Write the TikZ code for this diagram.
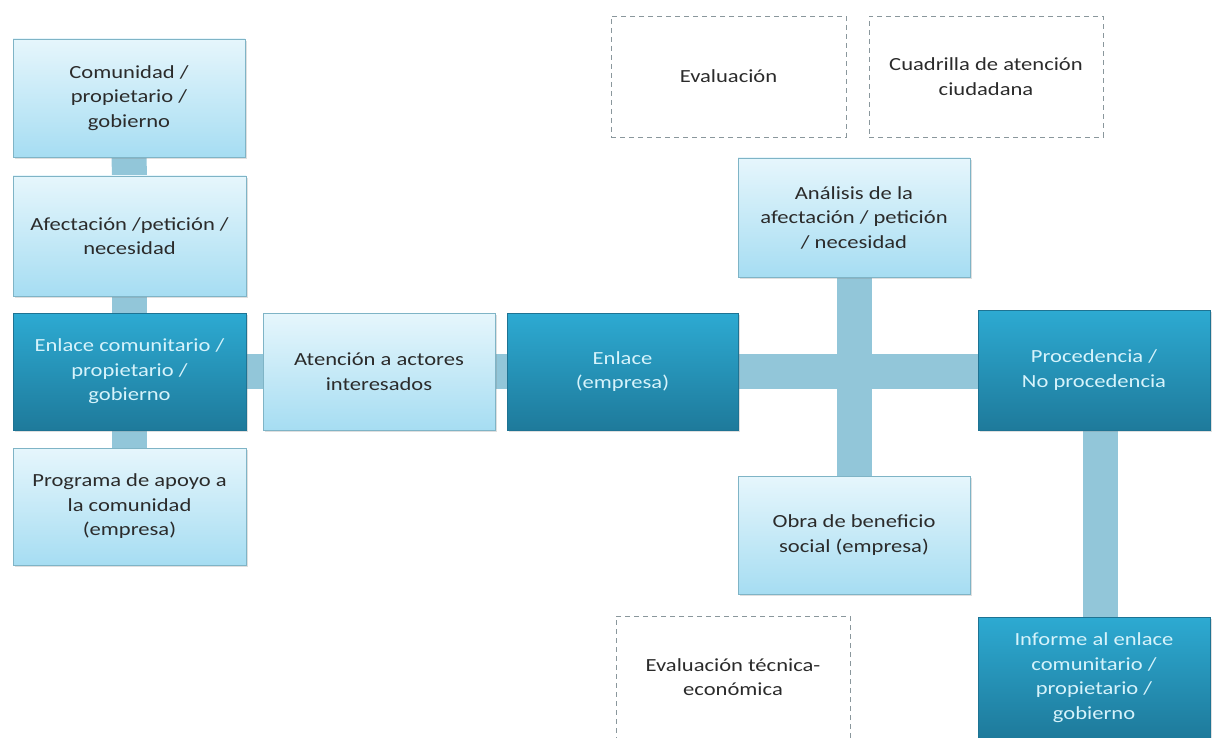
\documentclass[tikz,border=0pt]{standalone}
\usepackage{fontspec}
\setmainfont{Carlito}[FakeStretch=1.22]
\usetikzlibrary{backgrounds,shadows}
\definecolor{lighttop}{HTML}{E6F6FC}
\definecolor{lightbot}{HTML}{A6DDF2}
\definecolor{lightline}{HTML}{7FB4C6}
\definecolor{darktop}{HTML}{2DAAD2}
\definecolor{darkbot}{HTML}{1E7A9B}
\definecolor{darkline}{HTML}{1E7393}
\definecolor{barcol}{HTML}{92C6D9}
\definecolor{dashcol}{HTML}{8A979C}
\definecolor{txtdark}{HTML}{2B2B2B}
\definecolor{txtlight}{HTML}{D6F3FB}
\tikzset{
  base/.style={rectangle, align=center, inner sep=2pt,
    font=\fontsize{18.5}{24.5}\selectfont},
  lightbox/.style={base, top color=lighttop, bottom color=lightbot,
    draw=lightline, line width=0.8pt, text=txtdark,
    drop shadow={opacity=0.25, shadow xshift=1.5pt, shadow yshift=-2pt}},
  darkbox/.style={base, top color=darktop, bottom color=darkbot,
    draw=darkline, line width=0.8pt, text=txtlight,
    drop shadow={opacity=0.25, shadow xshift=1.5pt, shadow yshift=-2pt}},
  dashbox/.style={base, draw=dashcol, line width=0.9pt,
    dash pattern=on 5pt off 4pt, text=txtdark},
  bar/.style={draw=barcol, line width=35pt}
}
\begin{document}
\begin{tikzpicture}[x=1pt, y=-1pt]
\useasboundingbox (0,0) rectangle (1213,738);
\node[lightbox, minimum width=232pt, minimum height=118pt] (com) at (129,98) {Comunidad /\\propietario /\\gobierno};
\node[lightbox, minimum width=233pt, minimum height=120pt] (afe) at (129.5,236) {Afectación /petición /\\necesidad};
\node[darkbox, minimum width=233pt, minimum height=117pt] (enc) at (129.5,371.5) {Enlace comunitario /\\propietario /\\gobierno};
\node[lightbox, minimum width=233pt, minimum height=117pt] (pro) at (129.5,506.5) {Programa de apoyo a\\la comunidad\\(empresa)};
\node[lightbox, minimum width=232pt, minimum height=117pt] (ate) at (379,371.5) {Atención a actores\\interesados};
\node[darkbox, minimum width=231pt, minimum height=117pt] (ene) at (622.5,371.5) {Enlace\\(empresa)};
\node[lightbox, minimum width=232pt, minimum height=119pt] (ana) at (854,217.5) {Análisis de la\\afectación / petición\\/ necesidad};
\node[lightbox, minimum width=232pt, minimum height=118pt] (obr) at (854,535) {Obra de beneficio\\social (empresa)};
\node[darkbox, minimum width=232pt, minimum height=120pt] (prc) at (1094,370) {Procedencia /\\No procedencia};
\node[darkbox, minimum width=232pt, minimum height=121pt] (inf) at (1094,677.5) {Informe al enlace\\comunitario /\\propietario /\\gobierno};
\node[dashbox, minimum width=235pt, minimum height=121pt] (eva) at (728.5,76.5) {Evaluación};
\node[dashbox, minimum width=234pt, minimum height=121pt] (cua) at (986,76.5) {Cuadrilla de atención\\ciudadana};
\node[dashbox, minimum width=234pt, minimum height=122pt] (evt) at (733,677) {Evaluación técnica-\\económica};
\begin{scope}[on background layer]
\draw[bar] (com.south) -- (afe.north);
\draw[bar] (afe.south) -- (enc.north);
\draw[bar] (enc.south) -- (pro.north);
\draw[bar] (enc.east) -- (ate.west);
\draw[bar] (ate.east) -- (ene.west);
\draw[bar] (ene.east) -- (prc.west |- ene.east);
\draw[bar] (ana.south) -- (obr.north);
\draw[bar] ([xshift=6pt]prc.south) -- ([xshift=6pt]inf.north);
\end{scope}
\end{tikzpicture}
\end{document}
